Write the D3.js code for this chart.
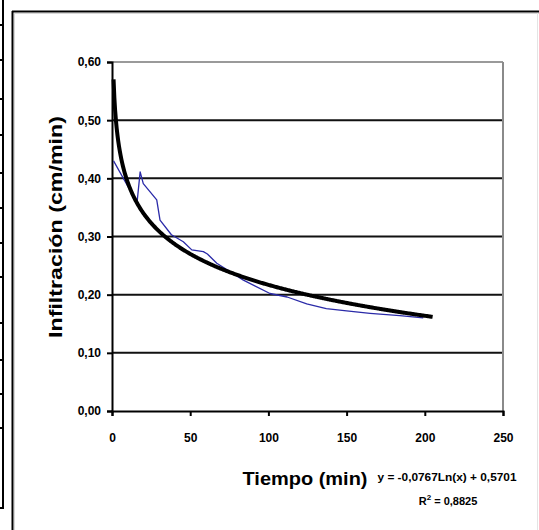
<!DOCTYPE html>
<html>
<head>
<meta charset="utf-8">
<script src="https://cdn.jsdelivr.net/npm/d3@7"></script>
<style>
  html, body { margin: 0; padding: 0; background: #fff; }
  svg { display: block; }
  text { font-family: "Liberation Sans", Arial, sans-serif; font-weight: bold; fill: #000; }
</style>
</head>
<body>
<svg id="chart" width="539" height="530"></svg>
<script>
// Measured infiltration rate over time
const tiempo = [1, 16, 18, 20, 28.6, 30.7, 38, 45.6, 51, 58.4, 61, 67, 84, 101, 112, 124.5, 137, 150, 165, 184, 199];
const infiltracion = [0.43, 0.358, 0.411, 0.391, 0.363, 0.328, 0.303, 0.291, 0.277, 0.274, 0.270, 0.254, 0.225, 0.202, 0.196, 0.184, 0.176, 0.172, 0.168, 0.164, 0.160];

// Logarithmic trend line: y = a·Ln(x) + b
const trendA = -0.0767;
const trendB = 0.5701;
const trendR2 = 0.8825;
const trendRange = [1, 205];

const xTicks = [0, 50, 100, 150, 200, 250];
const yTicks = [0, 0.1, 0.2, 0.3, 0.4, 0.5, 0.6];

// Row separators of the neighbouring table at the left edge
const tableRows = [25, 60, 99, 135, 173, 208, 243, 277, 323, 360, 394, 428, 508];

const fmtComma = (v, d) => v.toFixed(d).replace(".", ",");

const svg = d3.select("#chart");

// Fragment of the table on the left
svg.append("line").attr("x1", 3).attr("x2", 3).attr("y1", 0).attr("y2", 509)
  .attr("stroke", "#000").attr("stroke-width", 2);
svg.selectAll("line.row").data(tableRows).enter().append("line")
  .attr("class", "row")
  .attr("x1", 0).attr("x2", 4).attr("y1", d => d).attr("y2", d => d)
  .attr("stroke", "#000").attr("stroke-width", 2);

// Chart frame
svg.append("line").attr("x1", 14.5).attr("x2", 14.5).attr("y1", 13).attr("y2", 530)
  .attr("stroke", "#d8d8d8").attr("stroke-width", 1);
svg.append("line").attr("x1", 14).attr("x2", 539).attr("y1", 13.5).attr("y2", 13.5)
  .attr("stroke", "#d8d8d8").attr("stroke-width", 1);
svg.append("line").attr("x1", 12.5).attr("x2", 12.5).attr("y1", 11).attr("y2", 530)
  .attr("stroke", "#000").attr("stroke-width", 2);
svg.append("line").attr("x1", 12).attr("x2", 539).attr("y1", 11.5).attr("y2", 11.5)
  .attr("stroke", "#000").attr("stroke-width", 2);
svg.append("line").attr("x1", 537.5).attr("x2", 537.5).attr("y1", 13).attr("y2", 530)
  .attr("stroke", "#e4e4e4").attr("stroke-width", 1);

// Plot area
const plot = { left: 112, right: 503, top: 62, bottom: 411 };
const x = d3.scaleLinear().domain([0, 250]).range([plot.left, plot.right]);
const y = d3.scaleLinear().domain([0, 0.6]).range([plot.bottom, plot.top]);

// Horizontal gridlines
svg.append("g").selectAll("line").data(yTicks.filter(v => v > 0 && v < 0.6)).enter()
  .append("line")
  .attr("x1", plot.left).attr("x2", plot.right)
  .attr("y1", d => y(d)).attr("y2", d => y(d))
  .attr("stroke", "#111").attr("stroke-width", 2);

// Top and right borders of the plot area
svg.append("line").attr("x1", plot.left).attr("x2", plot.right).attr("y1", y(0.6)).attr("y2", y(0.6))
  .attr("stroke", "#9a9a9a").attr("stroke-width", 2);
svg.append("line").attr("x1", plot.right).attr("x2", plot.right).attr("y1", plot.top).attr("y2", plot.bottom)
  .attr("stroke", "#8a8a8a").attr("stroke-width", 2);

// Axes
const xAxis = d3.axisBottom(x).tickValues(xTicks).tickSize(5).tickPadding(17)
  .tickFormat(d => d3.format("d")(d));
const yAxis = d3.axisLeft(y).tickValues(yTicks).tickSize(5).tickPadding(6)
  .tickFormat(d => fmtComma(d, 2));

const gx = svg.append("g").attr("transform", `translate(0,${plot.bottom})`).call(xAxis);
const gy = svg.append("g").attr("transform", `translate(${plot.left},0)`).call(yAxis);
[gx, gy].forEach(g => {
  g.select(".domain").attr("stroke", "#000").attr("stroke-width", 2);
  g.selectAll(".tick line").attr("stroke", "#000").attr("stroke-width", 2);
  g.selectAll(".tick text").attr("font-size", 12).attr("font-family", "Liberation Sans, Arial, sans-serif")
    .attr("font-weight", "bold").attr("fill", "#000");
});

// Observed series
const line = d3.line().x((d, i) => x(tiempo[i])).y(d => y(d));
svg.append("path").datum(infiltracion)
  .attr("d", line)
  .attr("fill", "none").attr("stroke", "#2a2aa8").attr("stroke-width", 1.3)
  .attr("stroke-linejoin", "round");

// Trend line from its stated equation
const trendX = d3.range(trendRange[0], trendRange[1] + 0.001, 0.5);
const trendLine = d3.line().x(d => x(d)).y(d => y(trendA * Math.log(d) + trendB));
svg.append("path").datum(trendX)
  .attr("d", trendLine)
  .attr("fill", "none").attr("stroke", "#000").attr("stroke-width", 4)
  .attr("stroke-linejoin", "round");

// Axis titles
svg.append("text")
  .attr("transform", "translate(62,227) rotate(-90)")
  .attr("text-anchor", "middle")
  .attr("font-size", 19)
  .attr("textLength", 222).attr("lengthAdjust", "spacingAndGlyphs")
  .text("Infiltración (cm/min)");

svg.append("text")
  .attr("x", 305).attr("y", 485)
  .attr("text-anchor", "middle")
  .attr("font-size", 19)
  .attr("textLength", 125).attr("lengthAdjust", "spacingAndGlyphs")
  .text("Tiempo (min)");

// Trend equation and R²
svg.append("text")
  .attr("x", 447).attr("y", 481)
  .attr("text-anchor", "middle")
  .attr("font-size", 10.5)
  .attr("textLength", 139).attr("lengthAdjust", "spacingAndGlyphs")
  .text(`y = ${fmtComma(trendA, 4)}Ln(x) + ${fmtComma(trendB, 4)}`);

const r2 = svg.append("text")
  .attr("x", 448).attr("y", 505)
  .attr("text-anchor", "middle")
  .attr("font-size", 11);
r2.append("tspan").text("R");
r2.append("tspan").attr("dy", -5).attr("font-size", 8).text("2");
r2.append("tspan").attr("dy", 5).text(` = ${fmtComma(trendR2, 4)}`);
</script>
</body>
</html>
